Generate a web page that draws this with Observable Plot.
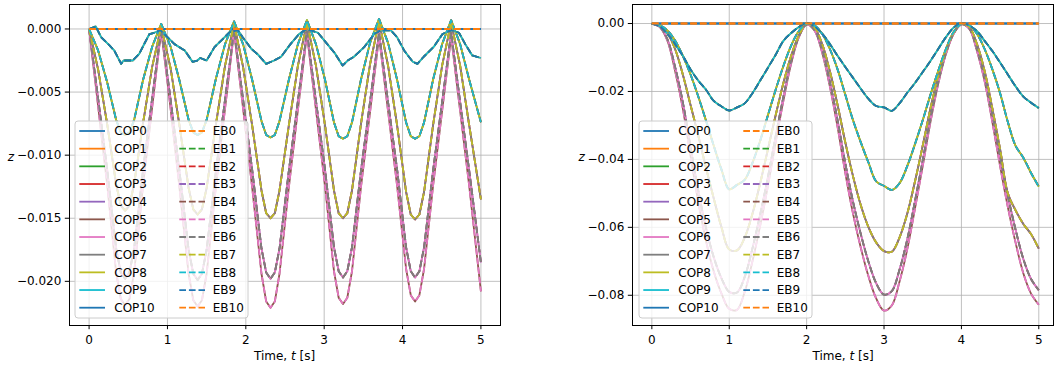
<!DOCTYPE html>
<html><head><meta charset="utf-8">
<script src="https://cdn.jsdelivr.net/npm/d3@7"></script>
<script src="https://cdn.jsdelivr.net/npm/@observablehq/plot@0.6"></script>
<style>
body{margin:0;background:#fff;}
#wrap{position:relative;width:1060px;height:365px;overflow:hidden;font-family:"DejaVu Sans",sans-serif;background:#fff;}
.panel{position:absolute;top:0;}
</style></head><body><div id="wrap"></div>
<script>
// ---------- series names ----------
const copNames = ["COP0","COP1","COP2","COP3","COP4","COP5","COP6","COP7","COP8","COP9","COP10"];
const ebNames  = ["EB0","EB1","EB2","EB3","EB4","EB5","EB6","EB7","EB8","EB9","EB10"];
// node (curve) each series follows; the beam is symmetric so k and 10-k coincide
const nodeOfSeries = [0,1,2,3,4,5,4,3,2,1,0];

// ---------- tick labels ----------
const xTicks = [0,1,2,3,4,5];
const yTicksLeft = [0,-0.005,-0.010,-0.015,-0.020];
const yTicksRight = [0,-0.02,-0.04,-0.06,-0.08];

// ---------- flat (clamped) node ----------
const flatT = [0, 5];
const flatZ = [0, 0];

// ---------- LEFT panel ----------
const tLeft = [0,0.115,0.23,0.345,0.405,0.46,0.515,0.575,0.69,0.805,0.92,1.04,1.15,1.27,1.33,1.385,1.44,1.50,1.62,1.735,1.85,1.965,2.08,2.20,2.26,2.315,2.37,2.43,2.55,2.665,2.78,2.895,3.01,3.125,3.185,3.24,3.295,3.355,3.47,3.585,3.70,3.815,3.93,4.045,4.105,4.16,4.215,4.275,4.39,4.505,4.62,4.735,4.85,5.0];
const leftNode1T = [0,0.085,0.153,0.26,0.32,0.41,0.44,0.557,0.64,0.705,0.77,0.83,0.91,1.0,1.09,1.22,1.32,1.38,1.42,1.5,1.6,1.73,1.79,1.9,1.96,2.07,2.15,2.26,2.36,2.45,2.57,2.68,2.78,2.92,3.04,3.13,3.235,3.3,3.38,3.51,3.64,3.72,3.85,3.93,4.02,4.13,4.19,4.27,4.4,4.51,4.62,4.72,4.8,4.89,5.0];
const leftNode1Z = [0,0.0002,-0.00065,-0.0013,-0.0017,-0.00276,-0.0025,-0.0025,-0.00197,-0.00117,-0.0004,-0.0003,-0.0001,-0.00065,-0.0012,-0.0017,-0.0026,-0.0025,-0.0023,-0.0025,-0.00144,-0.00065,-0.00026,-0.0001,-0.00065,-0.00157,-0.0020,-0.00276,-0.0025,-0.0022,-0.0012,-0.0004,0,-0.0003,-0.0012,-0.00187,-0.0029,-0.0025,-0.0022,-0.00144,-0.0004,-0.0001,-0.0001,-0.00065,-0.0017,-0.0026,-0.00276,-0.0022,-0.0014,-0.0004,-0.0001,-0.0003,-0.0012,-0.0021,-0.0023];
const leftNode2 = [0,-0.0017,-0.0042,-0.0072,-0.0082,-0.0084,-0.0082,-0.0072,-0.0040,-0.0014,0.0004,-0.0014,-0.0040,-0.0072,-0.0082,-0.0084,-0.0082,-0.0072,-0.0039,-0.0012,0.0006,-0.0012,-0.0040,-0.0073,-0.0084,-0.0086,-0.0084,-0.0073,-0.0040,-0.0012,0.0007,-0.0012,-0.0040,-0.0074,-0.0085,-0.0087,-0.0085,-0.0074,-0.0040,-0.0011,0.0008,-0.0011,-0.0040,-0.0074,-0.0085,-0.0087,-0.0085,-0.0074,-0.0040,-0.0012,0.0007,-0.0012,-0.0040,-0.0074];
const leftNode3 = [0,-0.0032,-0.0075,-0.0123,-0.0140,-0.0144,-0.0140,-0.0123,-0.0074,-0.0030,0.0002,-0.0031,-0.0075,-0.0126,-0.0143,-0.0147,-0.0143,-0.0126,-0.0075,-0.0029,0.0004,-0.0030,-0.0076,-0.0128,-0.0146,-0.0150,-0.0146,-0.0128,-0.0076,-0.0029,0.0005,-0.0029,-0.0076,-0.0128,-0.0146,-0.0150,-0.0146,-0.0128,-0.0075,-0.0028,0.0006,-0.0029,-0.0076,-0.0129,-0.0147,-0.0151,-0.0147,-0.0129,-0.0076,-0.0029,0.0005,-0.0029,-0.0076,-0.0135];
const leftNode4 = [0,-0.0055,-0.0111,-0.0174,-0.0193,-0.0198,-0.0193,-0.0174,-0.0111,-0.0055,0,-0.0056,-0.0111,-0.0175,-0.0194,-0.0199,-0.0194,-0.0175,-0.0112,-0.0056,-0.0001,-0.0056,-0.0111,-0.0174,-0.0193,-0.0198,-0.0193,-0.0174,-0.0112,-0.0057,-0.0002,-0.0057,-0.0111,-0.0173,-0.0192,-0.0197,-0.0192,-0.0173,-0.0112,-0.0058,-0.0003,-0.0058,-0.0111,-0.0173,-0.0192,-0.0197,-0.0192,-0.0173,-0.0112,-0.0058,-0.0003,-0.0058,-0.0112,-0.0185];
const leftNode5 = [0,-0.0061,-0.0123,-0.0193,-0.0214,-0.0219,-0.0214,-0.0193,-0.0123,-0.0062,-0.0001,-0.0063,-0.0124,-0.0194,-0.0215,-0.0220,-0.0215,-0.0194,-0.0124,-0.0063,-0.0002,-0.0063,-0.0125,-0.0194,-0.0216,-0.0221,-0.0216,-0.0194,-0.0125,-0.0064,-0.0004,-0.0064,-0.0124,-0.0192,-0.0213,-0.0218,-0.0213,-0.0192,-0.0125,-0.0066,-0.0006,-0.0065,-0.0124,-0.0190,-0.0211,-0.0216,-0.0211,-0.0190,-0.0124,-0.0065,-0.0006,-0.0065,-0.0124,-0.0208];

// ---------- RIGHT panel ----------
const tRight = [0,0.1,0.2,0.3,0.4,0.5,0.6,0.7,0.8,0.9,1.0,1.1,1.2,1.3,1.4,1.5,1.6,1.7,1.8,1.9,2.0,2.1,2.2,2.3,2.4,2.5,2.6,2.7,2.8,2.9,3.0,3.1,3.2,3.3,3.4,3.5,3.6,3.7,3.8,3.9,4.0,4.1,4.2,4.3,4.4,4.5,4.6,4.7,4.8,4.9,5.0];
const rightNode1 = [0,-0.0008,-0.0030,-0.0061,-0.0095,-0.0135,-0.0168,-0.0195,-0.0228,-0.0244,-0.0256,-0.0247,-0.0235,-0.0205,-0.0168,-0.0130,-0.0092,-0.0051,-0.0028,-0.0010,0.0002,-0.0008,-0.0030,-0.0060,-0.0095,-0.0128,-0.0160,-0.0192,-0.0222,-0.0243,-0.0247,-0.0257,-0.0235,-0.0204,-0.0175,-0.0143,-0.0110,-0.0075,-0.0040,-0.0012,0.0002,-0.0006,-0.0022,-0.0051,-0.0081,-0.0115,-0.0150,-0.0185,-0.0215,-0.0233,-0.0249];
const rightNode2 = [0,-0.0005,-0.0020,-0.0050,-0.0095,-0.0150,-0.0215,-0.0286,-0.0360,-0.0430,-0.0488,-0.0475,-0.0460,-0.0410,-0.0345,-0.0270,-0.0195,-0.0125,-0.0065,-0.0022,-0.0002,-0.0005,-0.0030,-0.0075,-0.0135,-0.0210,-0.0285,-0.0350,-0.0410,-0.0465,-0.0478,-0.0490,-0.0470,-0.0420,-0.0355,-0.0285,-0.0210,-0.0140,-0.0075,-0.0025,-0.0002,-0.0005,-0.0030,-0.0075,-0.0135,-0.0205,-0.0290,-0.0360,-0.0395,-0.0440,-0.0480];
const rightNode3 = [0,-0.0005,-0.0028,-0.0075,-0.0150,-0.0240,-0.0330,-0.0425,-0.0515,-0.0600,-0.0665,-0.0668,-0.0630,-0.0560,-0.0470,-0.0370,-0.0270,-0.0175,-0.0095,-0.0035,-0.0002,-0.0012,-0.0060,-0.0140,-0.0240,-0.0350,-0.0450,-0.0535,-0.0600,-0.0645,-0.0670,-0.0672,-0.0630,-0.0560,-0.0465,-0.0360,-0.0250,-0.0155,-0.0080,-0.0027,-0.0001,-0.0010,-0.0060,-0.0140,-0.0250,-0.0370,-0.0500,-0.0550,-0.0590,-0.0620,-0.0663];
const rightNode4 = [0,-0.0009,-0.0046,-0.0128,-0.0232,-0.0364,-0.0492,-0.0602,-0.0688,-0.0750,-0.0790,-0.0792,-0.0746,-0.0662,-0.0562,-0.0452,-0.0332,-0.0216,-0.0112,-0.0038,-0.0002,-0.0018,-0.0078,-0.0172,-0.0285,-0.0412,-0.0525,-0.0620,-0.0702,-0.0765,-0.0798,-0.0788,-0.0725,-0.0636,-0.0523,-0.0404,-0.0280,-0.0172,-0.0087,-0.0029,-0.0002,-0.0014,-0.0074,-0.0158,-0.0270,-0.0393,-0.0507,-0.0607,-0.0693,-0.0752,-0.0785];
const rightNode5 = [0,-0.0010,-0.0050,-0.0139,-0.0250,-0.0390,-0.0525,-0.0640,-0.0730,-0.0795,-0.0840,-0.0843,-0.0790,-0.0700,-0.0595,-0.0478,-0.0350,-0.0227,-0.0118,-0.0040,-0.0003,-0.0020,-0.0085,-0.0185,-0.0305,-0.0440,-0.0560,-0.0660,-0.0745,-0.0810,-0.0845,-0.0830,-0.0760,-0.0665,-0.0545,-0.0420,-0.0290,-0.0178,-0.0090,-0.0030,-0.0003,-0.0015,-0.0080,-0.0170,-0.0290,-0.0420,-0.0540,-0.0645,-0.0735,-0.0795,-0.0828];

// ---------- styling ----------
const tab10 = ["#1f77b4","#ff7f0e","#2ca02c","#d62728","#9467bd","#8c564b","#e377c2","#7f7f7f","#bcbd22","#17becf"];
const LW = 1.8, DASH = "6.7,2.9";

function rows(t, z) { const n = Math.min(t.length, z.length); const r = []; for (let i = 0; i < n; i++) r.push({t: t[i], z: z[i]}); return r; }

function makePanel(cfg) {
  const marks = [
    Plot.gridX(xTicks, {stroke: "#b0b0b0", strokeOpacity: 1, strokeWidth: 0.8}),
    Plot.gridY(cfg.yTicks, {stroke: "#b0b0b0", strokeOpacity: 1, strokeWidth: 0.8})
  ];
  const curveOf = (node) => (node === 0 ? "linear" : cfg.curve);
  copNames.forEach((name, k) => {
    const node = nodeOfSeries[k];
    marks.push(Plot.line(cfg.curves[node], {x: "t", y: "z", stroke: tab10[k % 10], strokeWidth: LW, strokeLinecap: "butt", curve: curveOf(node), clip: true}));
  });
  ebNames.forEach((name, k) => {
    const node = nodeOfSeries[k];
    marks.push(Plot.line(cfg.curves[node], {x: "t", y: "z", stroke: tab10[(k + 1) % 10], strokeWidth: LW, strokeDasharray: DASH, strokeLinecap: "butt", curve: curveOf(node), clip: true}));
  });
  marks.push(Plot.frame({stroke: "black", strokeWidth: 1}));
  marks.push(Plot.axisX(xTicks, {tickSize: 4.2, tickPadding: 5.5, fontSize: 12, tickFormat: d3.format("d"), label: null}));
  marks.push(Plot.axisY(cfg.yTicks, {tickSize: 4.2, tickPadding: 4, fontSize: 12, tickFormat: d3.format(cfg.fmt), label: null}));

  const svg = Plot.plot({
    width: 530, height: 365,
    marginLeft: cfg.ml, marginRight: cfg.mr, marginTop: 4, marginBottom: 40,
    x: {domain: cfg.xDomain},
    y: {domain: cfg.yDomain},
    style: {fontFamily: "DejaVu Sans", fontSize: "12px", color: "black", background: "white", overflow: "visible"},
    marks
  });

  const s = d3.select(svg);
  // y label
  s.append("text").attr("x", cfg.zx).attr("y", 160.5).attr("text-anchor", "middle")
    .attr("font-family", "DejaVu Sans").attr("font-size", 12).attr("font-style", "italic").attr("fill", "black").text("z");
  // x label
  const xl = s.append("text").attr("x", cfg.xlx).attr("y", 359.5).attr("text-anchor", "middle")
    .attr("font-family", "DejaVu Sans").attr("font-size", 12).attr("fill", "black");
  xl.append("tspan").text("Time, ");
  xl.append("tspan").attr("font-style", "italic").text("t");
  xl.append("tspan").text(" [s]");

  // legend
  const L = cfg.legend;
  const g = s.append("g").attr("text-anchor", "start");
  g.append("rect").attr("x", L.x).attr("y", 121).attr("width", 173).attr("height", 197).attr("rx", 3)
    .attr("fill", "white").attr("fill-opacity", 0.8).attr("stroke", "#cccccc").attr("stroke-width", 1);
  for (let i = 0; i < 11; i++) {
    const y = 131 + i * 17.67;
    g.append("line").attr("x1", L.x + 4.3).attr("x2", L.x + 30).attr("y1", y).attr("y2", y)
      .attr("stroke", tab10[i % 10]).attr("stroke-width", LW);
    g.append("text").attr("x", L.x + 39.3).attr("y", y + 4.4).attr("text-anchor", "start").attr("font-family", "DejaVu Sans").attr("font-size", 12).attr("fill", "black").text(copNames[i]);
    g.append("line").attr("x1", L.x + 104.3).attr("x2", L.x + 130).attr("y1", y).attr("y2", y)
      .attr("stroke", tab10[(i + 1) % 10]).attr("stroke-width", LW).attr("stroke-dasharray", DASH);
    g.append("text").attr("x", L.x + 137.7).attr("y", y + 4.4).attr("text-anchor", "start").attr("font-family", "DejaVu Sans").attr("font-size", 12).attr("fill", "black").text(ebNames[i]);
  }

  const div = document.createElement("div");
  div.className = "panel";
  div.style.left = cfg.left + "px";
  div.appendChild(svg);
  document.getElementById("wrap").appendChild(div);
}

const flat = rows(flatT, flatZ);
makePanel({
  left: 0, ml: 69, mr: 30,
  xDomain: [-0.25, 5.25], yDomain: [-0.0235, 0.00194],
  yTicks: yTicksLeft, fmt: ".3f",
  zx: 11, xlx: 284.5, curve: "linear",
  legend: {x: 75},
  curves: [flat, rows(leftNode1T, leftNode1Z), rows(tLeft, leftNode2), rows(tLeft, leftNode3), rows(tLeft, leftNode4), rows(tLeft, leftNode5)]
});
makePanel({
  left: 530, ml: 102, mr: 7,
  xDomain: [-0.25, 5.19], yDomain: [-0.0889, 0.0056],
  yTicks: yTicksRight, fmt: ".2f",
  zx: 51.7, xlx: 313, curve: "catmull-rom",
  legend: {x: 109},
  curves: [flat, rows(tRight, rightNode1), rows(tRight, rightNode2), rows(tRight, rightNode3), rows(tRight, rightNode4), rows(tRight, rightNode5)]
});
</script></body></html>
